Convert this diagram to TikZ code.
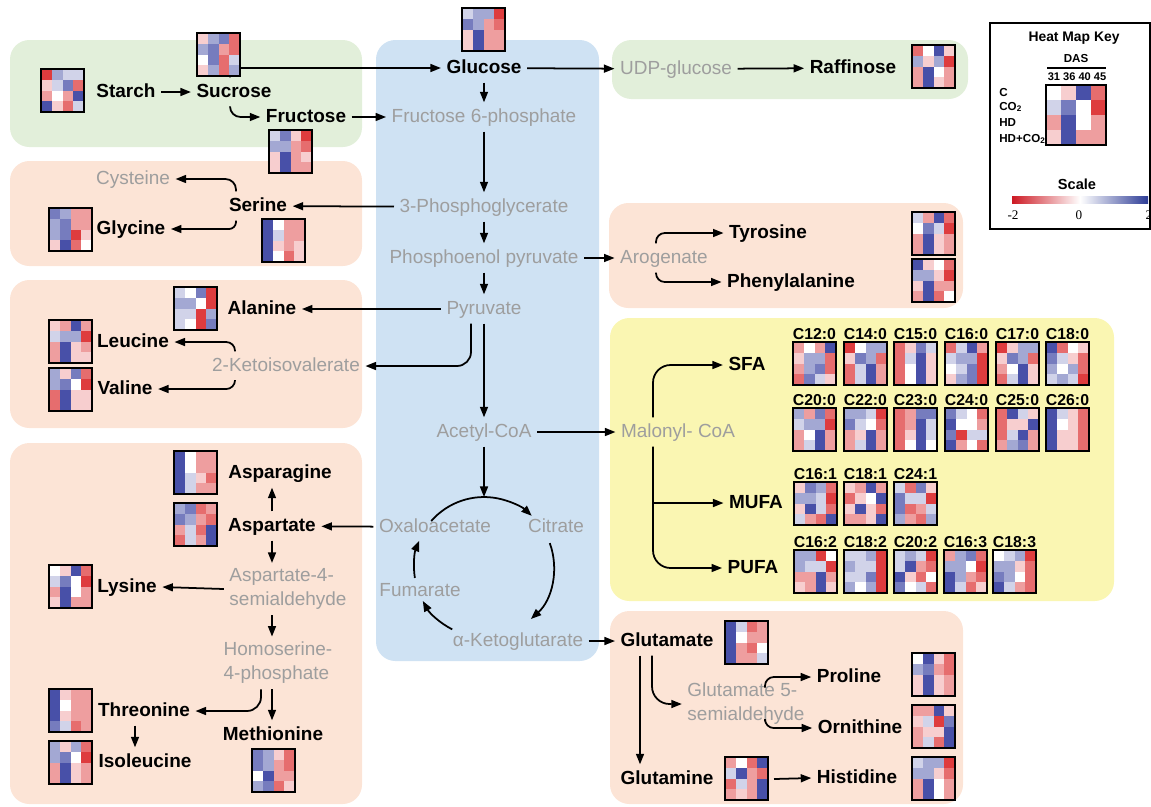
\documentclass[tikz,border=0pt]{standalone}
\usepackage{fontspec}
\setmainfont{Liberation Sans}
\newfontfamily\scalefont{Liberation Serif}
\usetikzlibrary{arrows.meta, calc}

\definecolor{hred}{RGB}{222,60,62}
\definecolor{hblue}{RGB}{72,80,168}
\definecolor{barred}{RGB}{205,25,35}
\definecolor{barblue}{RGB}{45,60,150}
\definecolor{bggreen}{RGB}{226,239,218}
\definecolor{bgblue}{RGB}{207,226,243}
\definecolor{bgsalmon}{RGB}{252,228,214}
\definecolor{bgyellow}{RGB}{250,246,178}
\definecolor{midgray}{RGB}{158,158,158}

% 4x4 heat map: [cell size]{left}{top}{16 values, -4 (red) .. 4 (blue)}
\newcommand{\hmap}[4][10.75]{%
  \foreach \v [count=\k from 0] in {#4}{%
    \pgfmathtruncatemacro{\hrow}{div(\k,4)}%
    \pgfmathtruncatemacro{\hcol}{mod(\k,4)}%
    \pgfmathtruncatemacro{\hpct}{abs(\v)*25}%
    \ifnum\v<0 \def\hcl{hred}\else\def\hcl{hblue}\fi
    \fill[\hcl!\hpct!white] ({#2+\hcol*#1},{#3+\hrow*#1}) rectangle ++(#1,#1);
  }
  \draw[line width=1pt] (#2,#3) rectangle ++({4*#1},{4*#1});
}
% fatty acid: name, label, left, top, values
\newcommand{\fahm}[5]{%
  \node[falabel] (#1) at ({#3+21.5},{#4-8}) {#2};
  \hmap{#3}{#4}{#5}
}

\begin{document}
\begin{tikzpicture}[x=0.02cm, y=-0.02cm,
    met/.style={font=\bfseries\fontsize{10.8}{13}\selectfont, inner sep=3pt, text height=8pt, text depth=2.3pt},
    inter/.style={font=\fontsize{10.8}{13}\selectfont, text=midgray, inner sep=3pt, text height=8pt, text depth=2.3pt},
    inter2/.style={font=\fontsize{10.8}{13.6}\selectfont, text=midgray, inner sep=3pt, align=left},
    falabel/.style={font=\bfseries\fontsize{9}{10}\selectfont, inner sep=0pt},
    keytxt/.style={font=\bfseries\fontsize{6.6}{8}\selectfont, inner sep=0pt},
    arr/.style={-{Triangle[length=6pt,width=4.5pt]}, line width=1pt},
    box/.style={rounded corners=11pt}]

\useasboundingbox (0,0) rectangle (1151,806);

% backgrounds
\fill[bggreen, box] (10,40) rectangle (362,147);
\fill[bgblue, box] (376,40) rectangle (599,661);
\fill[bggreen, box] (612,40) rectangle (968,99);
\fill[bgsalmon, box] (10,161) rectangle (362,266);
\fill[bgsalmon, box] (10,280) rectangle (362,428);
\fill[bgsalmon, box] (10,443) rectangle (362,804);
\fill[bgsalmon, box] (609,203) rectangle (963,308);
\fill[bgyellow, box] (610,318) rectangle (1114,601);
\fill[bgsalmon, box] (610,611) rectangle (963,804);

% metabolites
\node[met] (starch) at (126,92) {Starch};
\node[met] (sucrose) at (234,92) {Sucrose};
\node[met] (fructose) at (306,117) {Fructose};
\node[met] (glucose) at (484,68) {Glucose};
\node[met] (raffinose) at (853,68) {Raffinose};
\node[met] (serine) at (258,206) {Serine};
\node[met] (glycine) at (131,229) {Glycine};
\node[met] (tyrosine) at (768,233) {Tyrosine};
\node[met] (phe) at (791,282) {Phenylalanine};
\node[met] (alanine) at (262,309) {Alanine};
\node[met] (leucine) at (133,342) {Leucine};
\node[met] (valine) at (125,389) {Valine};
\node[met] (sfa) at (747,365) {SFA};
\node[met] (mufa) at (756,503) {MUFA};
\node[met] (pufa) at (753,568) {PUFA};
\node[met] (asn) at (280,473) {Asparagine};
\node[met] (asp) at (272,526) {Aspartate};
\node[met] (lys) at (127,587) {Lysine};
\node[met] (thr) at (144,711) {Threonine};
\node[met] (ile) at (145,762) {Isoleucine};
\node[met] (met) at (273,735) {Methionine};
\node[met] (glu) at (667,641) {Glutamate};
\node[met] (pro) at (849,677) {Proline};
\node[met] (orn) at (860,728) {Ornithine};
\node[met] (gln) at (667,779) {Glutamine};
\node[met] (his) at (857,778) {Histidine};

% intermediates
\node[inter] (udp) at (676,69) {UDP-glucose};
\node[inter] (f6p) at (484,117) {Fructose 6-phosphate};
\node[inter] (cys) at (133,179) {Cysteine};
\node[inter] (pga) at (484,207) {3-Phosphoglycerate};
\node[inter] (pep) at (484,258) {Phosphoenol pyruvate};
\node[inter] (arog) at (664,258) {Arogenate};
\node[inter] (pyr) at (484,309) {Pyruvate};
\node[inter] (kiv) at (286,366) {2-Ketoisovalerate};
\node[inter] (acoa) at (484,432) {Acetyl-CoA};
\node[inter] (mal) at (678,432) {Malonyl- CoA};
\node[inter] (oaa) at (435,527) {Oxaloacetate};
\node[inter] (cit) at (556,527) {Citrate};
\node[inter] (fum) at (420,591) {Fumarate};
\node[inter] (akg) at (518,641) {α-Ketoglutarate};
\node[inter2] (a4s) at (288,589) {Aspartate-4-\\semialdehyde};
\node[inter2] (h4p) at (278,663) {Homoserine-\\4-phosphate};
\node[inter2] (g5s) at (746,704) {Glutamate 5-\\semialdehyde};

% arrows
\draw[arr] (starch) -- (sucrose);
\draw[arr, rounded corners=5pt] ([xshift=-0.08cm]sucrose.north) |- (glucose.west);
\draw[arr, rounded corners=6pt] ([xshift=-0.08cm]sucrose.south) |- (fructose.west);
\draw[arr] (fructose) -- (f6p);
\draw[arr] (glucose) -- (udp);
\draw[arr] (udp) -- (raffinose);
\draw[arr] (glucose) -- (f6p);
\draw[arr] (f6p) -- (pga);
\draw[arr] (pga) -- (serine);
\draw[arr, rounded corners=6pt] ([xshift=-0.44cm]serine.north) |- (cys.east);
\draw[arr, rounded corners=4pt] ([xshift=-0.44cm]serine.south) |- (glycine.east);
\draw[arr] (pga) -- (pep);
\draw[arr] (pep) -- (arog);
\draw[arr, rounded corners=5pt] ([xshift=-0.16cm]arog.north) |- (tyrosine.west);
\draw[arr, rounded corners=5pt] ([xshift=-0.16cm]arog.south) |- (phe.west);
\draw[arr] (pep) -- (pyr);
\draw[arr] (pyr) -- (alanine);
\draw[arr, rounded corners=8pt] ([xshift=-0.26cm]pyr.south) |- (kiv.east);
\draw[arr, rounded corners=5pt] ([xshift=-1.02cm]kiv.north) |- (leucine.east);
\draw[arr, rounded corners=5pt] ([xshift=-1.02cm]kiv.south) |- (valine.east);
\draw[arr] (pyr) -- (acoa);
\draw[arr] (acoa) -- (mal);
\draw[arr, rounded corners=10pt] ([xshift=-0.5cm]mal.north) |- (sfa.west);
\draw[arr] ([xshift=-0.5cm]mal.south) |- (mufa.west);
\draw[arr, rounded corners=10pt] ([xshift=-0.5cm]mal.south) |- (pufa.west);

% TCA cycle
\coordinate (tca) at (484,567);
\coordinate (tcatop) at ($(tca)+(90:1.4cm)$);
\draw[arr] (acoa) -- (tcatop);
\draw[arr] ($(tca)+(139:1.4cm)$) arc[start angle=139, end angle=47, radius=1.4cm];
\draw[arr] ($(tca)+(20:1.4cm)$) arc[start angle=20, end angle=-48, radius=1.4cm];
\draw[arr] ($(tca)+(-117:1.4cm)$) arc[start angle=-117, end angle=-151, radius=1.4cm];
\draw[arr] ($(tca)+(-171:1.4cm)$) arc[start angle=-171, end angle=-202, radius=1.4cm];
\draw[arr] (oaa) -- (asp);
\draw[arr] (akg) -- (glu);

% aspartate family
\draw[arr] (asp.north) -- (asp.north |- asn.south);
\draw[arr] (asp.south) -- (asp.south |- a4s.north);
\draw[arr] (a4s.west) -- (lys.east);
\draw[arr] (asp.south |- a4s.south) -- (asp.south |- h4p.north);
\draw[arr, rounded corners=8pt] ([xshift=-0.34cm]h4p.south) |- (thr.east);
\draw[arr] (asp.south |- h4p.south) -- (asp.south |- met.north);
\draw[arr] ([xshift=-0.18cm]thr.south) -- ([xshift=-0.18cm]thr.south |- ile.north);

% glutamate family
\draw[arr] ([xshift=-0.54cm]glu.south) -- ([xshift=-0.54cm]glu.south |- gln.north);
\draw[arr, rounded corners=10pt] ([xshift=-0.3cm]glu.south) |- (g5s.west);
\draw[arr, rounded corners=5pt] ([xshift=0.38cm,yshift=-0.2cm]g5s.north) |- (pro.west);
\draw[arr, rounded corners=5pt] ([xshift=0.38cm,yshift=0.18cm]g5s.south) |- (orn.west);
\draw[arr] ([xshift=1.1cm]gln.east) -- (his.west);

% heat maps
\hmap{41}{69}{-4,2,1,1, -1,1,3,-3, -2,0,-2,4, 4,-1,-3,1}
\hmap{197}{33}{-1,2,3,-3, 2,3,-2,-3, 0,3,-3,1, -1,2,-3,2}
\hmap{269}{130}{1,3,-1,-4, 2,2,-2,-3, -1,4,-2,-1, -1,4,-2,-2}
\hmap{462}{8}{1,2,2,-4, 3,2,-2,-3, -1,4,-2,-2, -1,4,-2,-2}
\hmap{912}{45}{-3,0,4,-1, 2,-1,2,-4, -2,4,0,-2, -2,4,-1,-2}
\hmap{262}{219}{4,0,-2,-2, 4,1,-2,-2, 4,-1,-2,-1, 4,0,-3,-1}
\hmap{49}{208}{3,2,-2,-2, 2,3,-2,-2, 2,3,-4,-1, -1,4,-3,0}
\hmap{912}{212}{1,-2,4,-3, 0,3,1,-4, -2,4,-1,-2, -2,4,-1,-2}
\hmap{912}{259}{4,-1,0,-3, 2,2,-1,-4, -1,4,-2,-2, -2,4,-3,0}
\hmap{174}{287}{1,0,3,-4, 2,2,0,-4, 1,1,-4,2, 1,0,-4,3}
\hmap{49}{320}{-1,-2,4,-2, 1,2,2,-4, -2,4,-1,-2, -2,4,-1,-1}
\hmap{49}{368}{2,-1,3,-3, 2,3,0,-4, -3,4,-1,-1, -3,4,-1,-1}
\hmap{174}{451}{4,0,-2,-2, 4,0,-2,-2, 4,1,-1,-3, 4,1,-2,-2}
\hmap{174}{503}{2,3,-3,-2, 3,2,-2,-3, -2,1,-3,4, -3,1,-2,4}
\hmap{49}{565}{0,-1,4,-3, 1,3,0,-4, -2,4,0,-2, -1,4,-2,-2}
\hmap{49}{689}{4,-1,-2,-2, 4,0,-2,-2, 4,-1,-2,-2, 3,1,-3,-2}
\hmap{49}{741}{2,-1,2,-3, 2,3,0,-4, -2,4,-1,-2, -2,4,-1,-2}
\hmap{252}{749}{3,2,-1,-3, 3,2,-2,-3, 0,4,-2,-2, 2,3,-3,-1}
\hmap{725}{621}{4,1,-3,-2, 4,0,-2,-2, 4,-2,-3,0, 4,-2,-2,1}
\hmap{912}{653}{0,4,-1,-3, 2,3,-2,-3, -1,4,-1,-2, -1,4,-1,-2}
\hmap{912}{705}{-2,-2,4,-1, -1,1,-4,3, -2,-1,-1,4, -2,1,-3,4}
\hmap{725}{757}{-2,0,-3,4, 1,4,-2,-3, -3,1,-2,4, -2,-1,-2,4}
\hmap{912}{757}{1,2,2,-4, 2,2,-1,-3, -2,4,0,-2, -2,4,0,-2}

% fatty acids
\fahm{c120}{C12:0}{793}{342}{-2,0,-2,4, -1,2,2,-3, -2,2,3,-3, -3,3,1,-1}
\fahm{c140}{C14:0}{844}{342}{-4,0,2,2, -1,3,2,-3, -3,1,4,-2, -3,1,4,-2}
\fahm{c150}{C15:0}{894}{342}{-3,-1,3,1, -3,1,4,-1, -3,0,4,-1, -3,0,4,-1}
\fahm{c160}{C16:0}{945}{342}{-3,1,4,-2, 1,2,2,-4, 0,1,3,-4, -1,2,3,-4}
\fahm{c170}{C17:0}{996}{342}{-4,-1,2,2, -1,3,2,-3, -2,0,4,-1, -3,1,4,-1}
\fahm{c180}{C18:0}{1046}{342}{4,-3,0,-1, 3,1,-1,-3, 2,0,2,-3, 1,2,1,-4}
\fahm{c200}{C20:0}{793}{408}{2,-2,3,-3, 1,2,2,-4, -2,0,4,-2, -2,1,4,-2}
\fahm{c220}{C22:0}{844}{408}{2,2,1,-4, 3,1,0,-3, -2,-1,4,-2, -2,1,4,-2}
\fahm{c230}{C23:0}{894}{408}{-3,-2,3,3, -3,-2,4,1, -3,-1,4,1, -3,0,4,0}
\fahm{c240}{C24:0}{945}{408}{3,1,0,-3, 4,0,0,-2, 3,-4,1,1, 4,-2,0,-3}
\fahm{c250}{C25:0}{996}{408}{-3,4,1,-1, -3,-1,-1,4, -3,1,4,-2, -2,2,3,-2}
\fahm{c260}{C26:0}{1046}{408}{4,1,-1,-3, 4,0,-1,-3, 4,-1,-1,-3, 4,-1,-1,-3}
\fahm{c161}{C16:1}{794}{482}{-1,3,2,-3, 2,2,1,-4, -1,4,1,-3, 1,-2,-3,4}
\fahm{c181}{C18:1}{844}{482}{-1,-2,4,-2, -3,-1,0,4, -1,4,-1,-3, -2,-2,-1,4}
\fahm{c241}{C24:1}{894}{482}{1,-3,3,-1, 3,1,1,-4, 3,-3,-2,1, 2,-2,-3,2}
\fahm{c162}{C16:2}{794}{550}{2,2,-4,0, 2,1,1,-4, -2,-2,4,-2, -1,-2,4,-1}
\fahm{c182}{C18:2}{844}{550}{1,1,2,-4, 2,1,1,-4, 1,1,3,-4, 2,0,2,-4}
\fahm{c202}{C20:2}{894}{550}{1,2,1,-4, 1,4,-2,-3, 4,-1,-3,0, 3,0,1,-3}
\fahm{c163}{C16:3}{944}{550}{-2,2,3,-3, 2,2,0,-4, 4,2,-2,-3, 4,1,-3,-1}
\fahm{c183}{C18:3}{993}{550}{0,1,2,-4, 2,2,-1,-3, 3,2,0,-3, 4,1,-2,-3}

% key
\draw[line width=0.9pt] (990,23) rectangle (1150,229);
\node[keytxt, font=\bfseries\fontsize{7.9}{9}\selectfont] (keytitle) at (1074,38) {Heat Map Key};
\node[keytxt] (das) at (1076,59) {DAS};
\draw[line width=1pt] (1047,68) -- (1106,68);
\node[keytxt, font=\bfseries\fontsize{6.3}{7}\selectfont] (days) at (1077,77) {31 36 40 45};
\node[keytxt, anchor=west] (kc) at (999,92) {C};
\node[keytxt, anchor=west] (kco) at (999,107) {CO\textsubscript{2}};
\node[keytxt, anchor=west] (khd) at (999,123) {HD};
\node[keytxt, anchor=west] (khdco) at (999,139) {HD+CO\textsubscript{2}};
\hmap[15]{1046}{85}{0,-1,4,-3, 1,3,0,-4, -2,4,0,-2, -1,4,-2,-2}
\node[keytxt, font=\bfseries\fontsize{8.3}{9}\selectfont] (scale) at (1077,184) {Scale};
\shade[left color=barred, right color=barblue, middle color=white] (1012,196) rectangle (1148,203);
\node[font=\scalefont\fontsize{7.5}{8}\selectfont, inner sep=0pt] (smin) at (1013,215) {-2};
\node[font=\scalefont\fontsize{7.5}{8}\selectfont, inner sep=0pt] (szero) at (1079,215) {0};
\node[font=\scalefont\fontsize{7.5}{8}\selectfont, inner sep=0pt] (smax) at (1149,215) {2};
\end{tikzpicture}
\end{document}
